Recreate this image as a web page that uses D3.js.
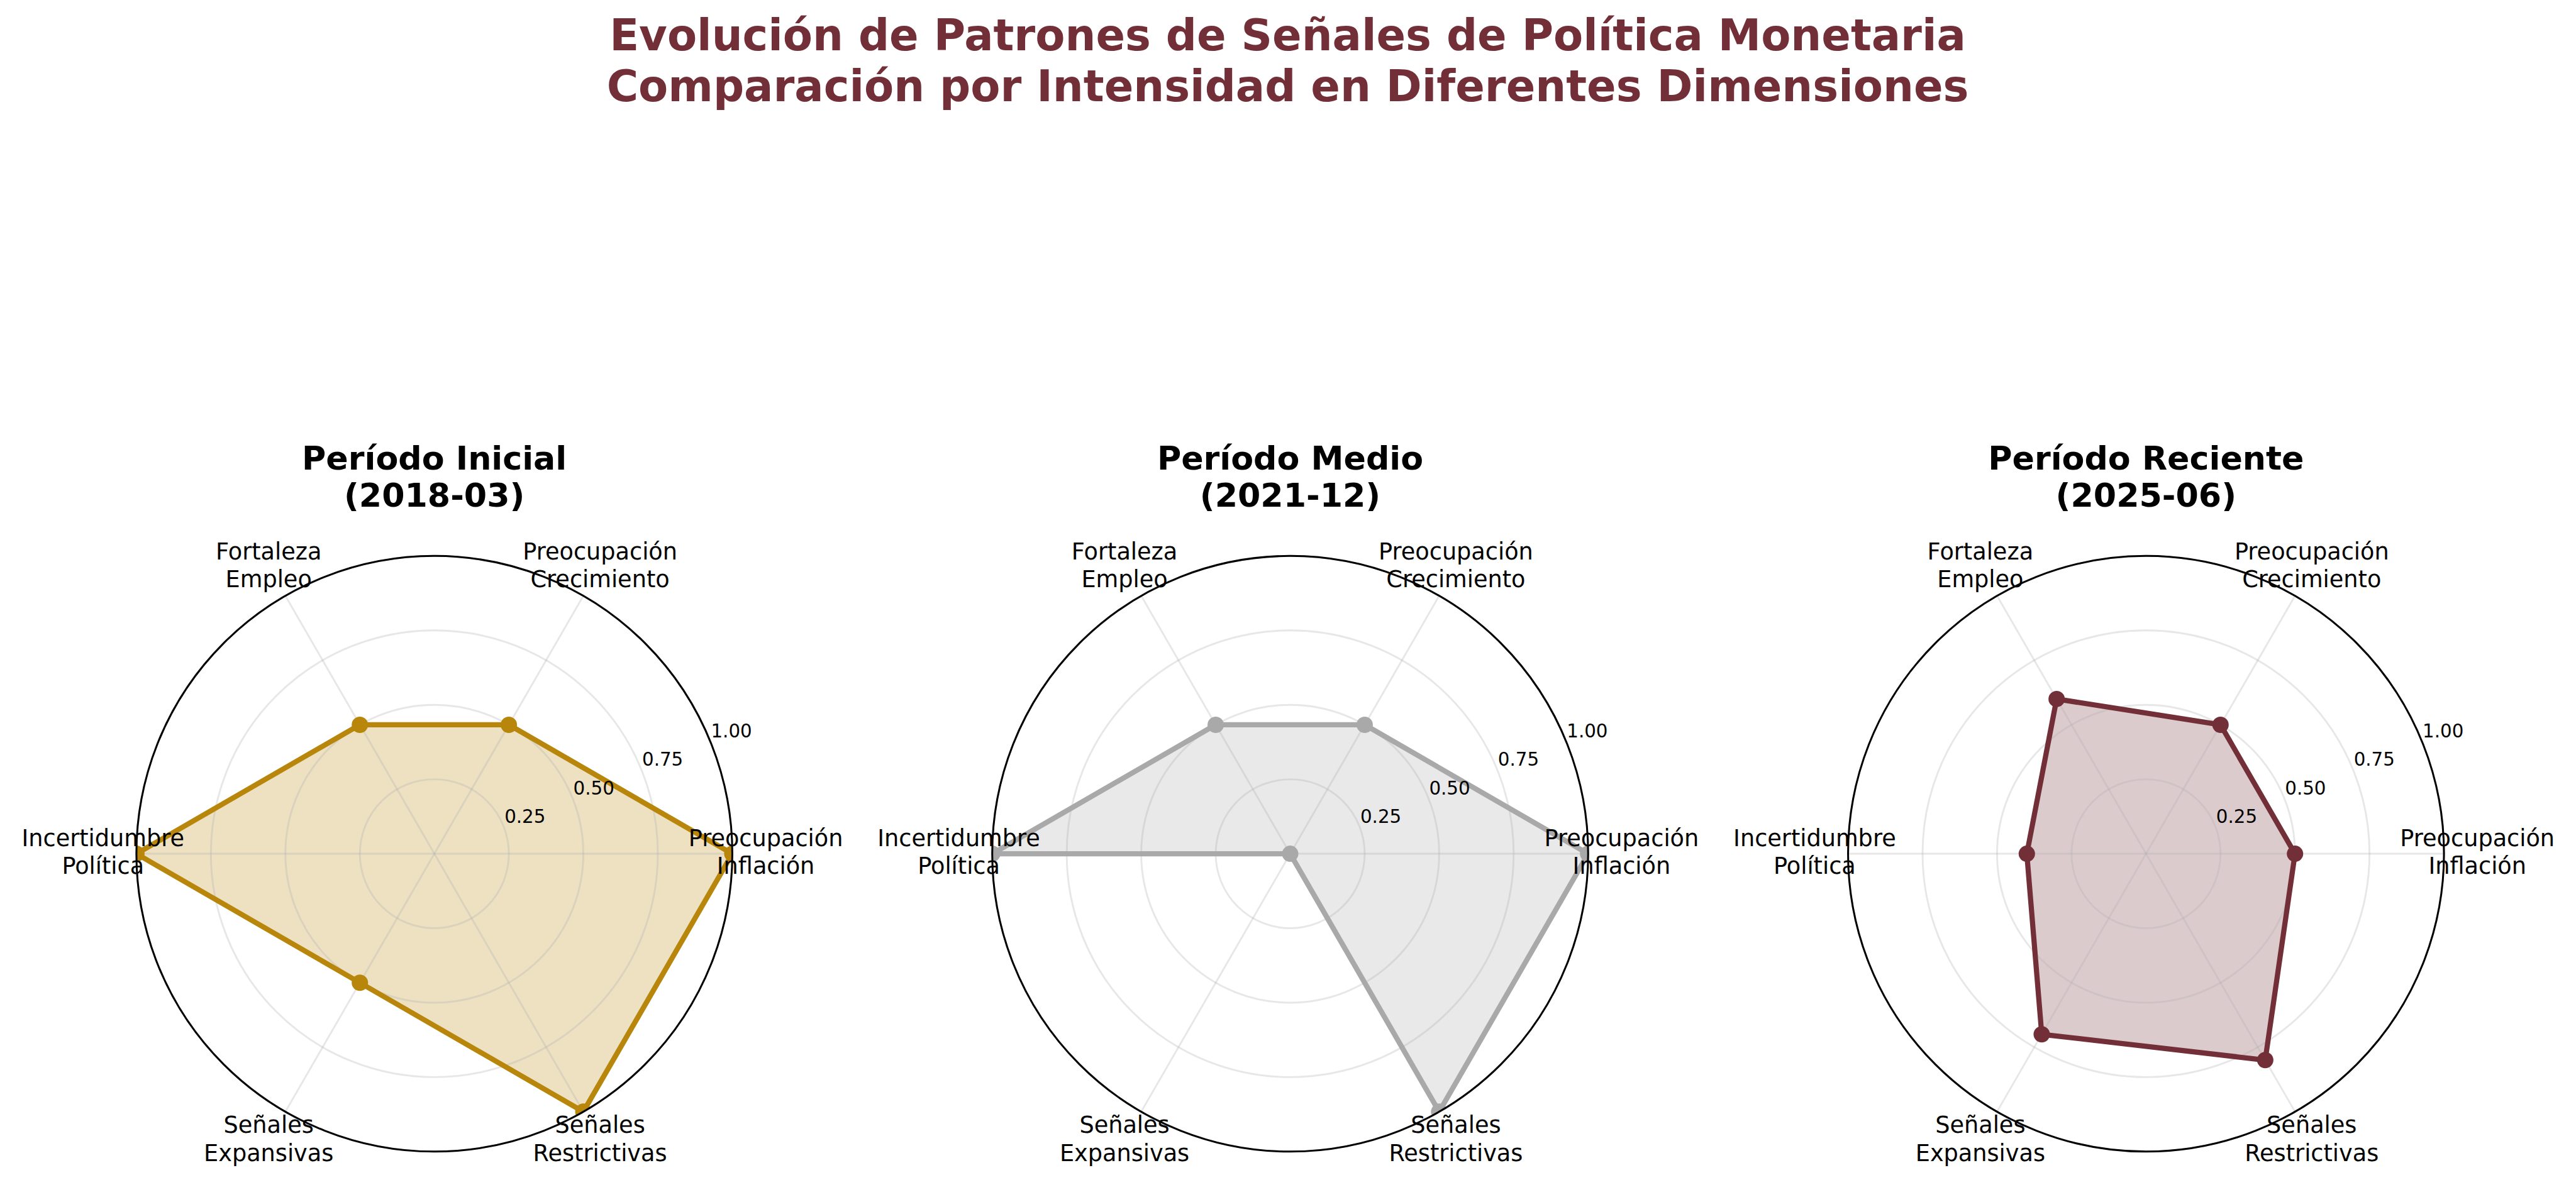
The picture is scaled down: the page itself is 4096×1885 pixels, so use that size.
<!DOCTYPE html>
<html>
<head>
<meta charset="utf-8">
<script src="https://cdn.jsdelivr.net/npm/d3@7"></script>
<style>
  html, body { margin: 0; padding: 0; background: #ffffff; }
  svg { display: block; }
  text { font-family: "DejaVu Sans", sans-serif; }
</style>
</head>
<body>
<script>
// ---------- data ----------
const categories = [
  ["Preocupación", "Inflación"],
  ["Preocupación", "Crecimiento"],
  ["Fortaleza", "Empleo"],
  ["Incertidumbre", "Política"],
  ["Señales", "Expansivas"],
  ["Señales", "Restrictivas"]
];
const periodTitles = [
  ["Período Inicial", "(2018-03)"],
  ["Período Medio", "(2021-12)"],
  ["Período Reciente", "(2025-06)"]
];
const valuesInicial  = [1.0, 0.5, 0.5, 1.0, 0.5, 1.0];
const valuesMedio    = [1.0, 0.5, 0.5, 1.0, 0.0, 1.0];
const valuesReciente = [0.5, 0.5, 0.6, 0.4, 0.7, 0.8];
const seriesColors = ["#B8860B", "#A9A9A9", "#722F37"];
const radialTicks = [0.25, 0.5, 0.75, 1.0];
const radialTickLabels = ["0.25", "0.50", "0.75", "1.00"];
const suptitleLines = [
  "Evolución de Patrones de Señales de Política Monetaria",
  "Comparación por Intensidad en Diferentes Dimensiones"
];

const allSeries = [valuesInicial, valuesMedio, valuesReciente];

// ---------- layout (reference pixel space, scaled by viewBox) ----------
const W = 4469, H = 2057;
const svg = d3.select("body").append("svg")
  .attr("width", 4096).attr("height", 1885)
  .attr("viewBox", `0 0 ${W} ${H}`);

svg.append("rect").attr("width", W).attr("height", H).attr("fill", "#fff");

const titleColor = "#722F37";
const st = svg.append("text")
  .attr("x", 2234).attr("text-anchor", "middle")
  .attr("font-size", 75).attr("font-weight", "bold").attr("fill", titleColor);
suptitleLines.forEach((l, i) => {
  st.append("tspan").attr("x", 2234).attr("y", 87 + i * 89).text(l);
});

const R = 517;
const cy = 1482;
const cxs = [753.3, 2238.3, 3723.3];
const n = categories.length;

const rScale = d3.scaleLinear().domain([0, 1]).range([0, R]);
// matplotlib theta (0 = east, counter-clockwise) converted to d3 radial angle
const thetaScale = d3.scaleLinear().domain([0, n]).range([0, 2 * Math.PI]);
const d3Angle = i => Math.PI / 2 - thetaScale(i);
const px = (i, r) => r * Math.cos(thetaScale(i));
const py = (i, r) => -r * Math.sin(thetaScale(i));

const defs = svg.append("defs");
defs.append("clipPath").attr("id", "circClip")
  .append("circle").attr("cx", 0).attr("cy", 0).attr("r", R);

const radialLine = d3.lineRadial()
  .angle((d, i) => d3Angle(i))
  .radius(d => rScale(d))
  .curve(d3.curveLinearClosed);

allSeries.forEach((vals, k) => {
  const color = seriesColors[k];
  const g = svg.append("g").attr("transform", `translate(${cxs[k]},${cy})`);

  // subplot title
  const tt = g.append("text").attr("text-anchor", "middle")
    .attr("font-size", 57).attr("font-weight", "bold").attr("fill", "#000");
  periodTitles[k].forEach((l, i) => {
    tt.append("tspan").attr("x", 0).attr("y", 815.5 - cy + i * 64.5).text(l);
  });

  const dataG = g.append("g").attr("clip-path", "url(#circClip)");

  // fill (below grid, as in matplotlib)
  dataG.append("path").datum(vals)
    .attr("d", radialLine)
    .attr("fill", color).attr("fill-opacity", 0.25).attr("stroke", "none");

  // grid
  const grid = g.append("g");
  radialTicks.forEach(t => {
    grid.append("circle").attr("r", rScale(t))
      .attr("fill", "none").attr("stroke", "#b0b0b0")
      .attr("stroke-opacity", 0.3).attr("stroke-width", 3.2);
  });
  d3.range(n).forEach(i => {
    grid.append("line")
      .attr("x1", 0).attr("y1", 0)
      .attr("x2", px(i, R)).attr("y2", py(i, R))
      .attr("stroke", "#b0b0b0").attr("stroke-opacity", 0.3).attr("stroke-width", 3.2);
  });

  const dataTop = g.append("g").attr("clip-path", "url(#circClip)");
  dataTop.append("path").datum(vals)
    .attr("d", radialLine)
    .attr("fill", "none").attr("stroke", color)
    .attr("stroke-width", 9).attr("stroke-linejoin", "round");
  dataTop.selectAll("circle.pt").data(vals).enter().append("circle")
    .attr("class", "pt")
    .attr("cx", (d, i) => px(i, rScale(d)))
    .attr("cy", (d, i) => py(i, rScale(d)))
    .attr("r", 14.2).attr("fill", color);

  // spine
  g.append("circle").attr("r", R).attr("fill", "none")
    .attr("stroke", "#000").attr("stroke-width", 3.3);

  // radial tick labels at 22.5 degrees
  const rlAng = 22.5 * Math.PI / 180;
  radialTicks.forEach((t, j) => {
    const rr = rScale(t) + 41;
    g.append("text")
      .attr("x", rr * Math.cos(rlAng))
      .attr("y", -rr * Math.sin(rlAng) + 11.7)
      .attr("text-anchor", "middle")
      .attr("font-size", 32).attr("fill", "#000")
      .text(radialTickLabels[j]);
  });

  // category labels
  const LR = 575;
  categories.forEach((lines, i) => {
    const lx = px(i, LR), ly = py(i, LR);
    const t = g.append("text").attr("text-anchor", "middle")
      .attr("font-size", 40).attr("fill", "#000");
    t.append("tspan").attr("x", lx).attr("y", ly - 13).text(lines[0]);
    t.append("tspan").attr("x", lx).attr("y", ly + 35.3).text(lines[1]);
  });
});
</script>
</body>
</html>
